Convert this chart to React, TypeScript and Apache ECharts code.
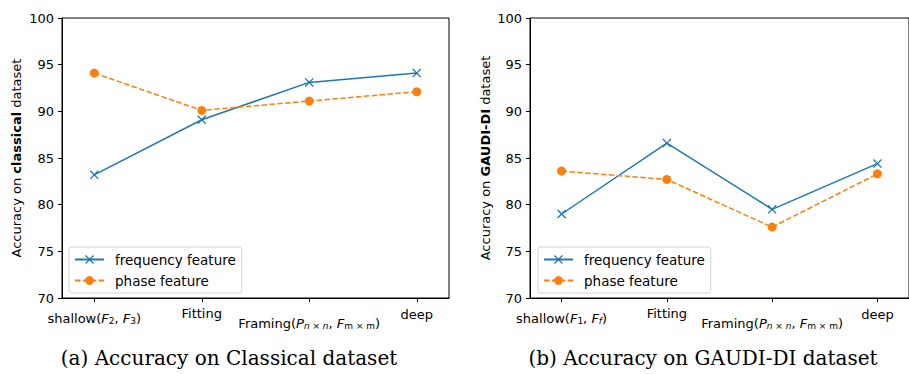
import React, { useEffect, useRef } from "react";
import * as echarts from "echarts";

// ---------- data ----------
const seriesNames = ["frequency feature", "phase feature"];
const categoryIdx = [0, 1, 2, 3];

const freqClassical = [83.2, 89.1, 93.1, 94.1];
const phaseClassical = [94.1, 90.1, 91.1, 92.1];

const freqGaudi = [79.0, 86.6, 79.5, 84.4];
const phaseGaudi = [83.6, 82.7, 77.6, 83.3];

const yTicks = { min: 70, max: 100, interval: 5 };

const xLabelsClassical = [
  "{n0|shallow(}{i0|F}{s0|2}{n0|, }{i0|F}{s0|3}{n0|)}",
  "{n1|Fitting}",
  "{n2|Framing(}{i2|P}{si2|n}{s2| × }{si2|n}{n2|, }{i2|F}{s2|m × m}{n2|)}",
  "{n3|deep}",
];
const xLabelsGaudi = [
  "{n0|shallow(}{i0|F}{s0|1}{n0|, }{i0|F}{si0|f}{n0|)}",
  "{n1|Fitting}",
  "{n2|Framing(}{i2|P}{si2|n}{s2| × }{si2|n}{n2|, }{i2|F}{s2|m × m}{n2|)}",
  "{n3|deep}",
];
const labelOffsets = [5, 0, 10, 1];

const yNameClassical = "{n|Accuracy on }{b|classical}{n| dataset}";
const yNameGaudi = "{n|Accuracy on }{b|GAUDI-DI}{n| dataset}";

const captions = ["(a) Accuracy on Classical dataset", "(b) Accuracy on GAUDI-DI dataset"];

// ---------- styles ----------
const BLUE = "#1f77b4";
const ORANGE = "#ff7f0e";
const FONT = "DejaVu Sans";
const CROSS =
  "path://M0,1 L1,0 L5,4 L9,0 L10,1 L6,5 L10,9 L9,10 L5,6 L1,10 L0,9 L4,5 Z";

function makeRich() {
  const rich: Record<string, any> = {};
  labelOffsets.forEach((off, k) => {
    const mainLH = 16 + off;
    rich["n" + k] = { fontFamily: FONT, fontSize: 13, color: "#000", lineHeight: mainLH, verticalAlign: "bottom" };
    rich["i" + k] = { fontFamily: FONT, fontSize: 13, fontStyle: "italic", color: "#000", lineHeight: mainLH, verticalAlign: "bottom" };
    rich["s" + k] = { fontFamily: FONT, fontSize: 9, color: "#000", lineHeight: 9, height: 9, verticalAlign: "bottom" };
    rich["si" + k] = { fontFamily: FONT, fontSize: 9, fontStyle: "italic", color: "#000", lineHeight: 9, height: 9, verticalAlign: "bottom" };
  });
  return rich;
}

function xAxis(gridIndex: number, labels: string[]) {
  return {
    type: "value",
    gridIndex,
    min: -0.3,
    max: 3.3,
    axisLine: { show: true, onZero: false, lineStyle: { color: "#000", width: 1 } },
    axisTick: { show: true, customValues: categoryIdx, length: 4, lineStyle: { color: "#000" } },
    axisLabel: {
      customValues: categoryIdx,
      margin: 6,
      verticalAlign: "top",
      formatter: (v: number) => labels[Math.round(v)] ?? "",
      rich: makeRich(),
    },
    splitLine: { show: false },
  };
}

function yAxis(gridIndex: number, name: string, gap: number) {
  return {
    type: "value",
    gridIndex,
    min: yTicks.min,
    max: yTicks.max,
    interval: yTicks.interval,
    name,
    nameLocation: "middle",
    nameRotate: 90,
    nameGap: gap,
    nameTextStyle: {
      rich: {
        n: { fontFamily: FONT, fontSize: 13, color: "#000" },
        b: { fontFamily: FONT, fontSize: 13, fontWeight: "bold", color: "#000" },
      },
    },
    axisLine: { show: true, onZero: false, lineStyle: { color: "#000", width: 1 } },
    axisTick: { show: true, length: 4, lineStyle: { color: "#000" } },
    axisLabel: { fontFamily: FONT, fontSize: 13, color: "#000", margin: 8 },
    splitLine: { show: false },
  };
}

function seriesPair(axisIndex: number, freq: number[], phase: number[]) {
  return [
    {
      name: seriesNames[0],
      type: "line",
      xAxisIndex: axisIndex,
      yAxisIndex: axisIndex,
      data: freq.map((v, i) => [categoryIdx[i], v]),
      symbol: CROSS,
      symbolSize: 9,
      itemStyle: { color: BLUE },
      lineStyle: { color: BLUE, width: 1.5 },
    },
    {
      name: seriesNames[1],
      type: "line",
      xAxisIndex: axisIndex,
      yAxisIndex: axisIndex,
      data: phase.map((v, i) => [categoryIdx[i], v]),
      symbol: "circle",
      symbolSize: 9,
      itemStyle: { color: ORANGE },
      lineStyle: { color: ORANGE, width: 1.5, type: [5.5, 2.4] },
    },
  ];
}

function legend(left: number) {
  return {
    orient: "vertical",
    left,
    top: 247,
    data: seriesNames,
    itemWidth: 29,
    itemHeight: 11,
    itemGap: 6,
    padding: [5, 6, 5, 5],
    backgroundColor: "rgba(255,255,255,0.8)",
    borderColor: "#d4d4d4",
    borderWidth: 1,
    borderRadius: 3,
    selectedMode: false,
    textStyle: {
      fontFamily: FONT, fontSize: 13.5, color: "#000", lineHeight: 15,
      padding: [0, 0, 0, 6],
    },
  };
}

export default function App() {
  const ref = useRef<HTMLDivElement>(null);
  useEffect(() => {
    if (!ref.current) return;
    const chart = echarts.init(ref.current, undefined, { renderer: "svg" });
    chart.setOption({
      animation: false,
      backgroundColor: "#fff",
      grid: [
        { left: 62, top: 18, width: 387, height: 280, show: true, borderColor: "#000", borderWidth: 1, backgroundColor: "transparent" },
        { left: 530, top: 18, width: 387, height: 280, show: true, borderColor: "#000", borderWidth: 1, backgroundColor: "transparent" },
      ],
      xAxis: [xAxis(0, xLabelsClassical), xAxis(1, xLabelsGaudi)],
      yAxis: [yAxis(0, yNameClassical, 39), yAxis(1, yNameGaudi, 38)],
      legend: [legend(69), legend(538)],
      series: [
        ...seriesPair(0, freqClassical, phaseClassical),
        ...seriesPair(1, freqGaudi, phaseGaudi),
      ],
      graphic: [
        {
          type: "text", x: 229, y: 358,
          style: {
            text: captions[0], font: "20px 'DejaVu Serif'", fill: "#000",
            textAlign: "center", textVerticalAlign: "middle", align: "center", verticalAlign: "middle",
          },
        },
        {
          type: "text", x: 703, y: 358,
          style: {
            text: captions[1], font: "20px 'DejaVu Serif'", fill: "#000",
            textAlign: "center", textVerticalAlign: "middle", align: "center", verticalAlign: "middle",
          },
        },
      ],
    });
    return () => chart.dispose();
  }, []);
  return <div ref={ref} style={{ width: 909, height: 374, position: "absolute", left: 0, top: 0 }} />;
}
